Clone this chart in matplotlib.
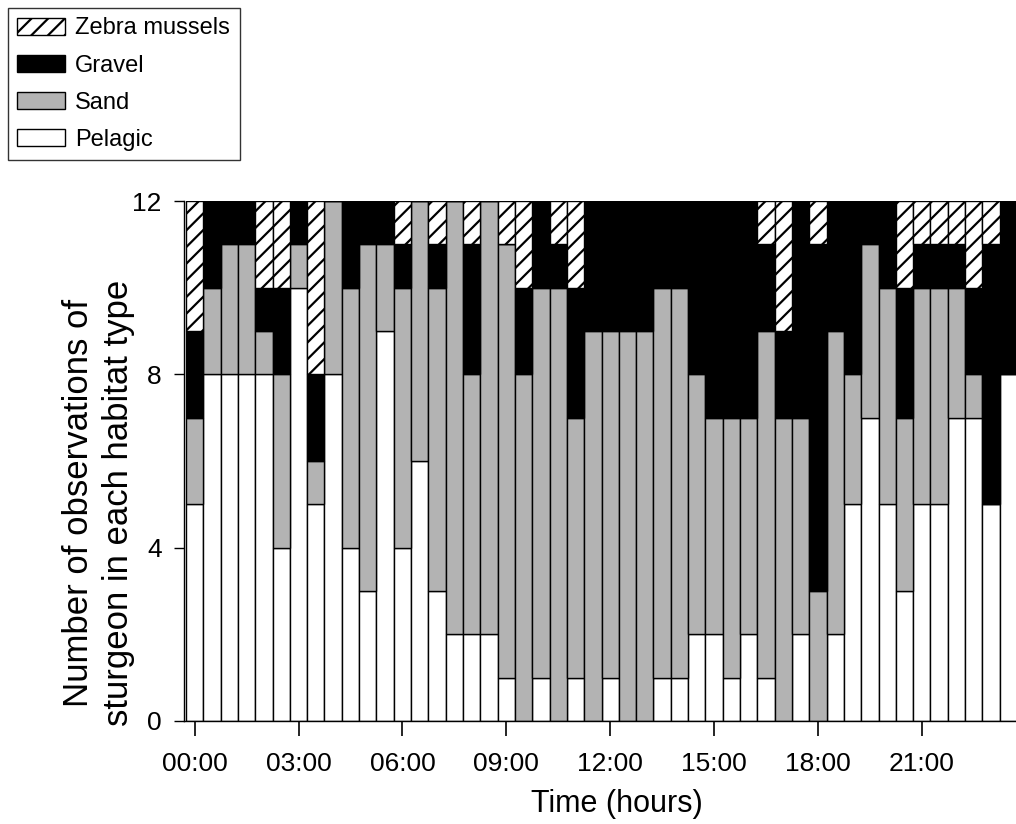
import numpy as np
import matplotlib
matplotlib.use('Agg')
import matplotlib.pyplot as plt
from matplotlib.patches import Patch

plt.rcParams['font.family'] = ['Liberation Sans', 'DejaVu Sans']
plt.rcParams['hatch.linewidth'] = 1.6
plt.rcParams['hatch.color'] = 'black'

# half-hour bins, 00:00 .. 23:30
hours = np.arange(0, 24, 0.5)

pelagic = [5, 8, 8, 8, 8, 4, 10, 5, 8, 4, 3, 9,
           4, 6, 3, 2, 2, 2, 1, 0, 1, 0, 1, 0,
           1, 0, 0, 1, 1, 2, 2, 1, 2, 1, 0, 2,
           0, 2, 5, 7, 5, 3, 5, 5, 7, 7, 5, 8]
sand = [2, 2, 3, 3, 1, 4, 1, 1, 4, 6, 8, 2,
        6, 6, 7, 10, 6, 10, 10, 8, 9, 10, 6, 9,
        8, 9, 9, 9, 9, 6, 5, 6, 5, 8, 7, 5,
        3, 7, 3, 4, 5, 4, 5, 5, 3, 1, 0, 0]
gravel = [2, 2, 1, 1, 1, 2, 1, 2, 0, 2, 1, 1,
          1, 0, 1, 0, 3, 0, 0, 2, 2, 1, 3, 3,
          3, 3, 3, 2, 2, 4, 5, 5, 5, 2, 2, 5,
          8, 3, 4, 1, 2, 3, 1, 1, 1, 2, 6, 4]
zebra = [3, 0, 0, 0, 2, 2, 0, 4, 0, 0, 0, 0,
         1, 0, 1, 0, 1, 0, 1, 2, 0, 1, 2, 0,
         0, 0, 0, 0, 0, 0, 0, 0, 0, 1, 3, 0,
         1, 0, 0, 0, 0, 2, 1, 1, 1, 2, 1, 0]

tick_hours = [0, 3, 6, 9, 12, 15, 18, 21]
tick_labels = ['00:00', '03:00', '06:00', '09:00', '12:00', '15:00', '18:00', '21:00']

sand_grey = '#b3b3b3'

fig = plt.figure(figsize=(10.16, 8.24), dpi=100)
ax = fig.add_axes([0.181, 0.125, 0.819, 0.631])

pelagic = np.array(pelagic)
sand = np.array(sand)
gravel = np.array(gravel)
zebra = np.array(zebra)

bar_kw = dict(width=0.5, align='center', edgecolor='black', linewidth=1.0)
ax.bar(hours, pelagic, color='white', **bar_kw)
ax.bar(hours, sand, bottom=pelagic, color=sand_grey, **bar_kw)
ax.bar(hours, gravel, bottom=pelagic + sand, color='black', **bar_kw)
ax.bar(hours, zebra, bottom=pelagic + sand + gravel, color='white', hatch='//', **bar_kw)

ax.set_xlim(-0.31, 23.72)
ax.set_ylim(0, 12)
ax.set_yticks([0, 4, 8, 12])
ax.set_xticks(tick_hours)
ax.set_xticklabels(tick_labels)

ax.spines['top'].set_visible(False)
ax.spines['right'].set_visible(False)
ax.spines['left'].set_linewidth(1.0)
ax.spines['bottom'].set_linewidth(1.0)
ax.tick_params(axis='x', direction='out', length=11, width=1.2, pad=11, labelsize=19)
ax.tick_params(axis='y', direction='out', length=7, width=1.0, pad=9, labelsize=19)

ax.set_xlabel('Time (hours)', fontsize=22)
ax.xaxis.set_label_coords(0.52, -0.13)

fig.text(0.097, 1 - 503 / 824, 'Number of observations of\nsturgeon in each habitat type',
         rotation=90, fontsize=25, ha='center', va='center', linespacing=1.25)

handles = [
    Patch(facecolor='white', edgecolor='black', hatch='//', label='Zebra mussels'),
    Patch(facecolor='black', edgecolor='black', label='Gravel'),
    Patch(facecolor=sand_grey, edgecolor='black', label='Sand'),
    Patch(facecolor='white', edgecolor='black', label='Pelagic'),
]
leg = fig.legend(handles=handles, loc='upper left', bbox_to_anchor=(8 / 1016, 1 - 8 / 824),
                 fontsize=17, frameon=True, fancybox=False, edgecolor='black',
                 handlelength=2.0, handleheight=0.75, labelspacing=0.64,
                 handletextpad=0.45, borderpad=0.4, borderaxespad=0)
leg.get_frame().set_linewidth(1.0)

fig.savefig('out.png', dpi=100)
